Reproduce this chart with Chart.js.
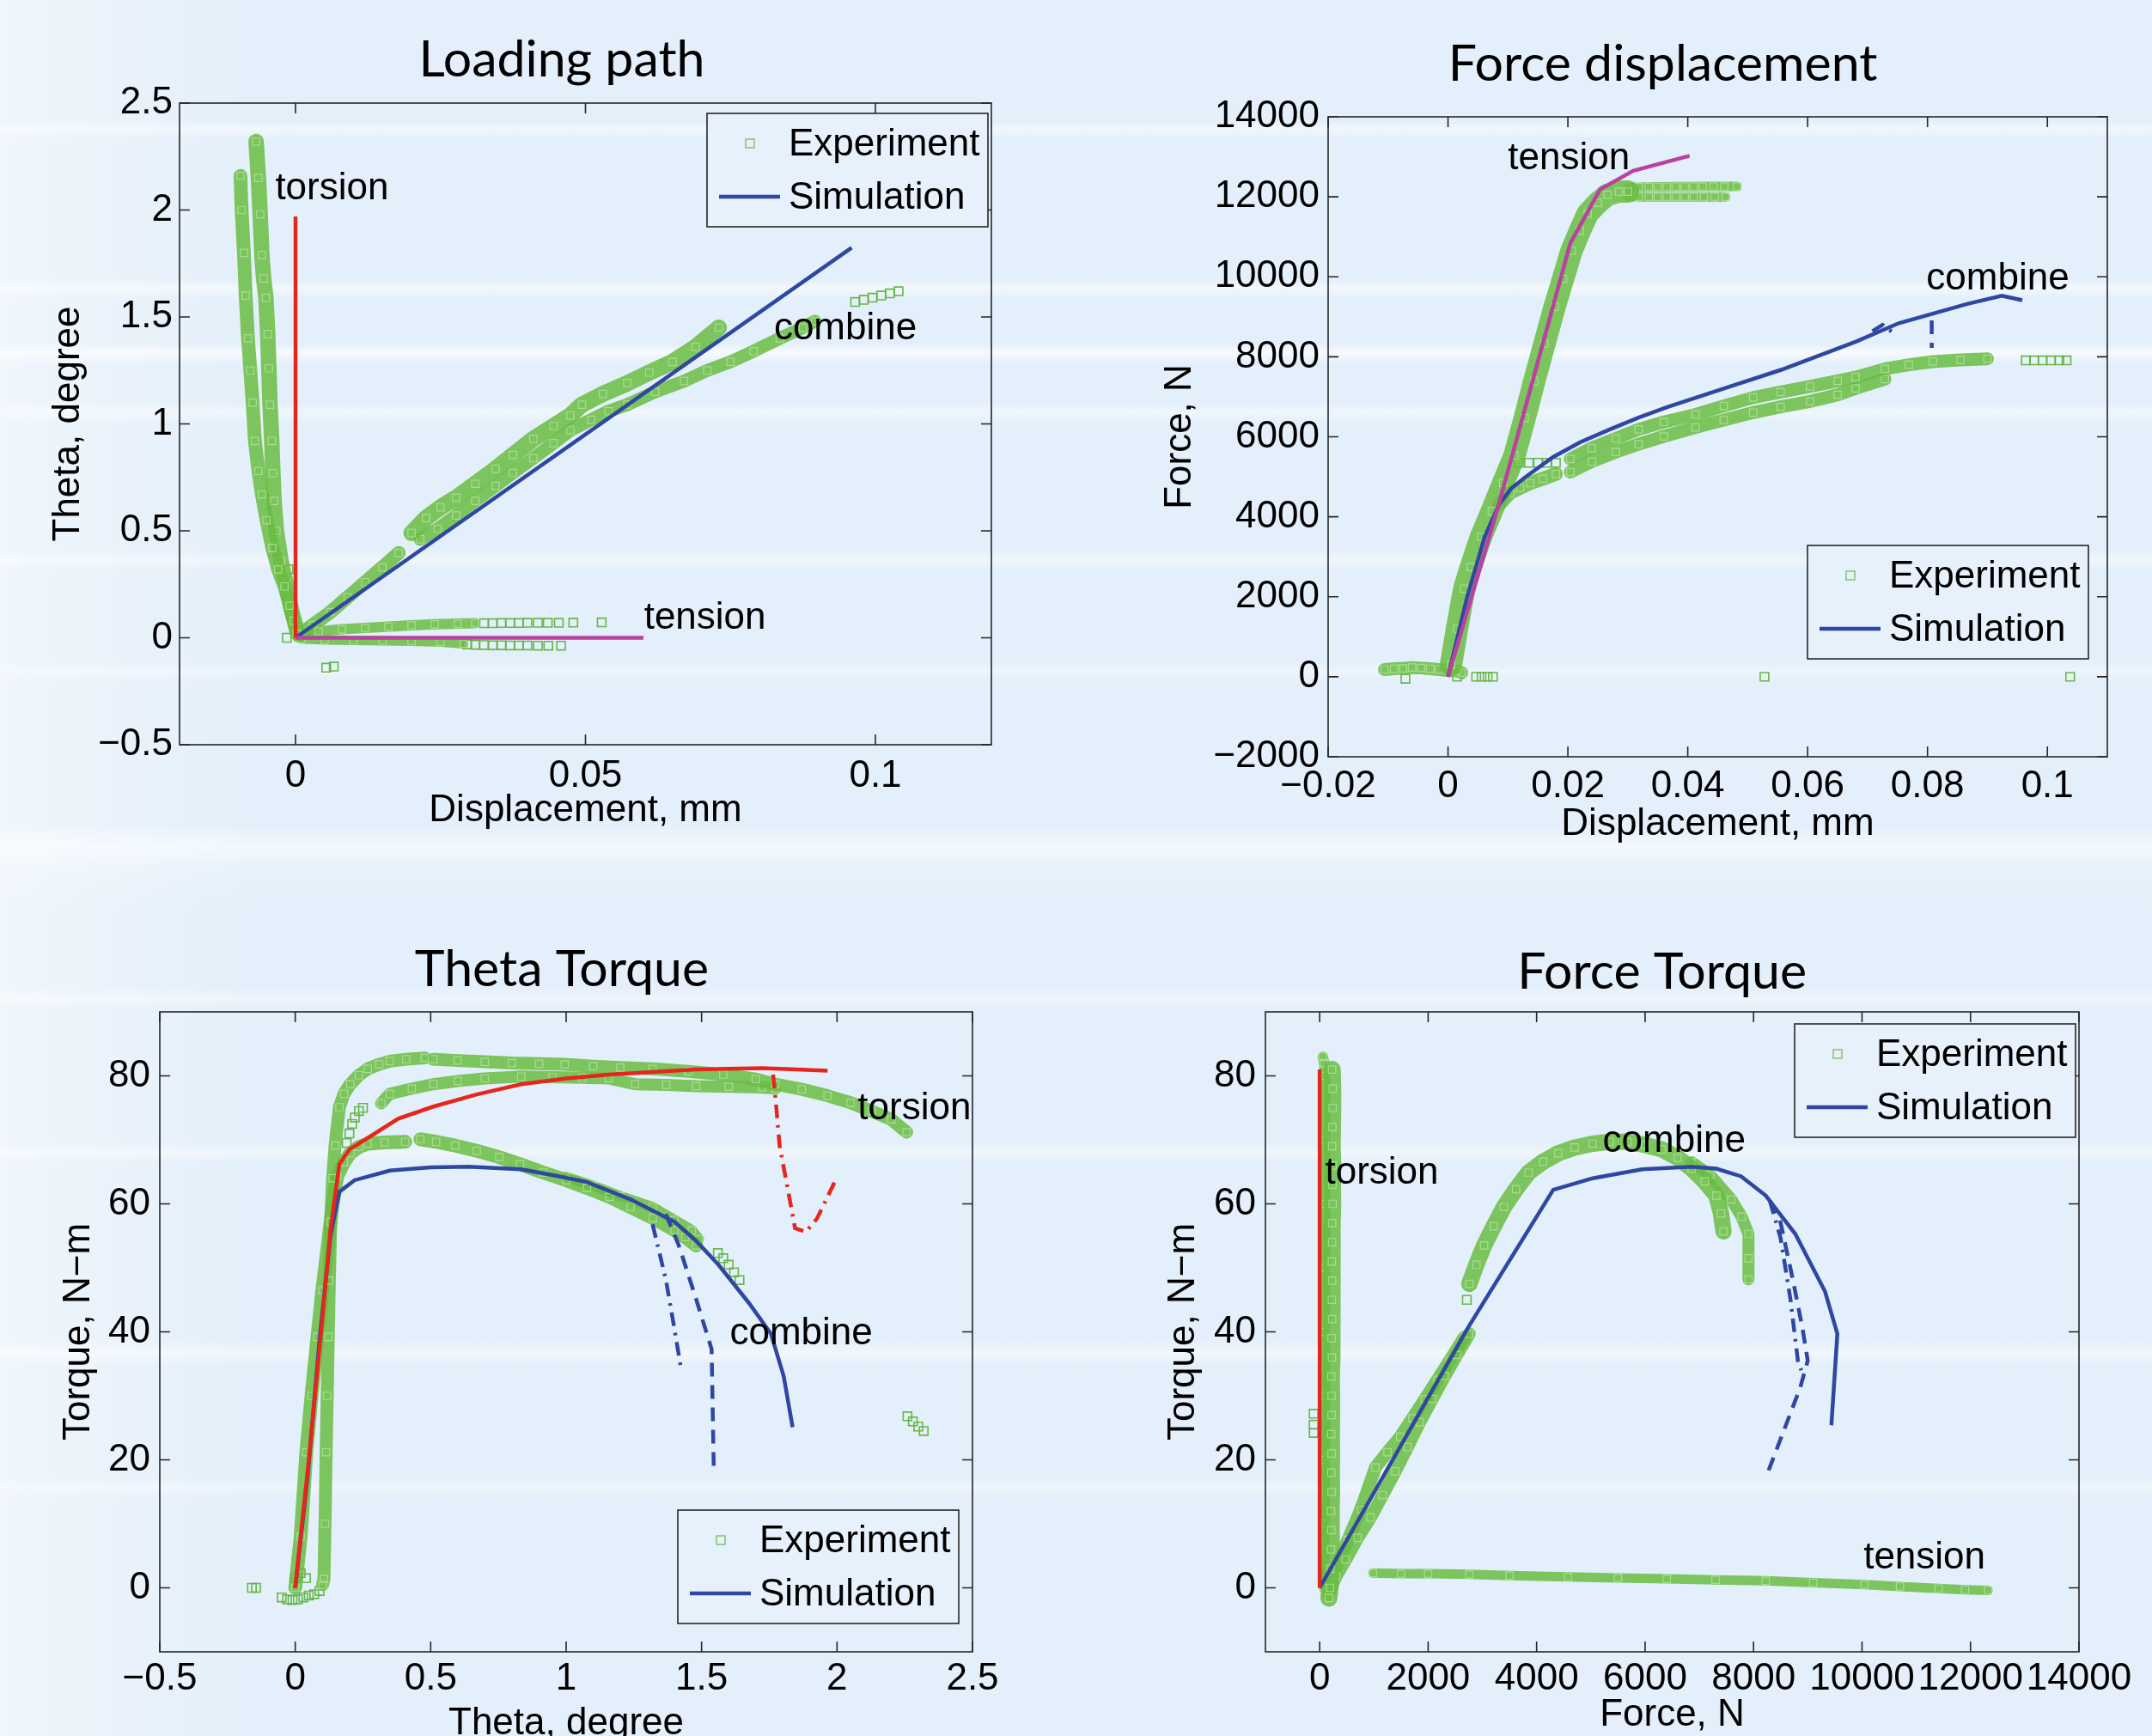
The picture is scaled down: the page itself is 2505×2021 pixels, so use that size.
<!DOCTYPE html>
<html>
<head>
<meta charset="utf-8">
<title>Loading path / Force displacement / Theta Torque / Force Torque</title>
<script src="https://cdn.jsdelivr.net/npm/chart.js@4.4.1/dist/chart.umd.min.js"></script>
<style>
  body {
    margin: 0; width: 2505px; height: 2021px; overflow: hidden; position: relative;
    background:
      linear-gradient(90deg, rgba(255,255,255,0.45), rgba(255,255,255,0) 300px),
      linear-gradient(180deg,
        #e3effa 0px, #e3effa 140px, #f1f7fd 150px, #e3effa 162px,
        #e3effa 325px, #f3f8fd 335px, #e3effa 348px,
        #e3effa 400px, #f6fafe 410px, #e3effa 424px,
        #e3effa 468px, #eff6fc 480px, #e3effa 494px,
        #e3effa 640px, #f0f6fc 652px, #e3effa 664px,
        #e3effa 770px, #eef5fc 782px, #e3effa 794px,
        #e3effa 960px, #f4f9fe 985px, #e8f2fb 1010px, #e3effa 1060px,
        #e3effa 1150px, #eff6fc 1162px, #e3effa 1174px,
        #e3effa 1330px, #f0f6fc 1342px, #e3effa 1354px,
        #e3effa 1560px, #f1f7fd 1575px, #e3effa 1590px,
        #e3effa 1720px, #eef5fc 1732px, #e3effa 1744px,
        #e3effa 2021px);
  }
  canvas { position: absolute; }
</style>
</head>
<body>
<canvas id="c1" width="1250" height="1000" style="left:0;top:0"></canvas>
<canvas id="c2" width="1255" height="1000" style="left:1250px;top:0"></canvas>
<canvas id="c3" width="1250" height="1060" style="left:0;top:1000px"></canvas>
<canvas id="c4" width="1255" height="1060" style="left:1250px;top:1000px"></canvas>
<script>
// ---- Loading path (displacement mm, theta degree)
var lpXTicks = [0, 0.05, 0.1];
var lpYTicks = [-0.5, 0, 0.5, 1, 1.5, 2, 2.5];
var lpTorsionExpA = [[-0.0095,2.16],[-0.0093,2.0],[-0.0089,1.8],[-0.0086,1.6],[-0.0082,1.4],[-0.0078,1.25],[-0.0074,1.1],[-0.007,0.92],[-0.0064,0.78],[-0.0058,0.67],[-0.005,0.55],[-0.004,0.42],[-0.003,0.32],[-0.0019,0.24],[-0.001,0.15],[-0.0003,0.08],[0.0002,0.02]];
var lpTorsionExpB = [[-0.0068,2.32],[-0.0064,2.15],[-0.0061,1.98],[-0.0058,1.79],[-0.0055,1.68],[-0.0051,1.59],[-0.0048,1.42],[-0.0046,1.26],[-0.0044,1.09],[-0.0041,0.92],[-0.0039,0.77],[-0.0037,0.64],[-0.0033,0.5],[-0.0025,0.36],[-0.0016,0.25],[-0.0007,0.13],[0.0002,0.04]];
var lpTorsionExpIso = [[-0.0012,0.32],[-0.0015,0.0]];
var lpTensionExpHi = [[0.0005,0.01],[0.004,0.03],[0.008,0.04],[0.012,0.046],[0.016,0.052],[0.02,0.058],[0.024,0.063],[0.028,0.066],[0.031,0.068]];
var lpTensionExpHiTail = [[0.0325,0.068],[0.034,0.068],[0.0355,0.069],[0.037,0.069],[0.0385,0.069],[0.04,0.07],[0.0418,0.07],[0.0435,0.07],[0.0454,0.07],[0.0479,0.071],[0.0528,0.072]];
var lpTensionExpLo = [[0.001,-0.005],[0.005,-0.01],[0.01,-0.012],[0.015,-0.014],[0.02,-0.016],[0.025,-0.02],[0.029,-0.028]];
var lpTensionExpLoTail = [[0.0296,-0.031],[0.031,-0.033],[0.0325,-0.034],[0.034,-0.035],[0.0355,-0.035],[0.037,-0.036],[0.0385,-0.036],[0.04,-0.036],[0.0418,-0.037],[0.0436,-0.037],[0.0458,-0.037]];
var lpTensionExpIso = [[0.0053,-0.14],[0.0066,-0.135]];
var lpCombineExpStart = [[0.0005,0.01],[0.003,0.06],[0.006,0.12],[0.009,0.19],[0.012,0.26],[0.015,0.33],[0.0178,0.397]];
var lpCombineExpHi = [[0.02,0.49],[0.0225,0.56],[0.025,0.61],[0.0277,0.655],[0.031,0.72],[0.0345,0.79],[0.0375,0.855],[0.041,0.93],[0.0445,0.99],[0.0474,1.04],[0.0494,1.09],[0.053,1.14],[0.0572,1.19],[0.061,1.24],[0.065,1.29],[0.069,1.36],[0.073,1.45]];
var lpCombineExpLo = [[0.0215,0.46],[0.0245,0.51],[0.0277,0.572],[0.031,0.64],[0.0345,0.71],[0.0375,0.771],[0.041,0.84],[0.0445,0.91],[0.0474,0.97],[0.051,1.02],[0.054,1.06],[0.0572,1.09],[0.062,1.15],[0.067,1.2],[0.071,1.25],[0.075,1.29],[0.079,1.34],[0.0835,1.4],[0.0875,1.45],[0.0896,1.48]];
var lpCombineExpTail = [[0.0965,1.57],[0.098,1.58],[0.0995,1.59],[0.101,1.6],[0.1025,1.61],[0.104,1.62]];
var lpSimTorsion = [[0,0],[0,1.97]];
var lpSimTension = [[0,0],[0.06,0]];
var lpSimCombine = [[0,0],[0.0959,1.824]];

// ---- Force displacement (displacement mm, force N)
var fdXTicks = [-0.02, 0, 0.02, 0.04, 0.06, 0.08, 0.1];
var fdYTicks = [-2000, 0, 2000, 4000, 6000, 8000, 10000, 12000, 14000];
var fdTensionExp = [[0.0005,300],[0.0015,1200],[0.0027,2200],[0.0038,2745],[0.0055,3500],[0.0073,4140],[0.0092,4850],[0.0111,5535],[0.0128,6470],[0.0144,7395],[0.0161,8330],[0.0178,9258],[0.0192,9950],[0.0206,10650],[0.022,11150],[0.0233,11580],[0.025,11850],[0.0266,12050],[0.0285,12130],[0.03,12130]];
var fdTensionExpHi = [[0.03,12230],[0.0318,12240],[0.0335,12245],[0.035,12250],[0.0365,12250],[0.038,12255],[0.0395,12255],[0.041,12255],[0.0425,12260],[0.0443,12260],[0.0461,12260],[0.0482,12260]];
var fdTensionExpLo = [[0.03,12010],[0.0318,12000],[0.0335,12000],[0.035,12000],[0.0365,12000],[0.038,12000],[0.0395,12000],[0.041,12000],[0.0427,12000],[0.0445,12000],[0.0463,12000]];
var fdCombineExpStart = [[0.0085,4300],[0.0104,4605],[0.012,4720],[0.0137,4840],[0.0158,4950],[0.018,5070]];
var fdCombineExpJump = [[0.0118,5350],[0.0135,5350],[0.015,5350],[0.0165,5350],[0.018,5350]];
var fdCombineExpHi = [[0.0204,5445],[0.024,5720],[0.028,5960],[0.0318,6185],[0.036,6370],[0.0413,6560],[0.046,6770],[0.0509,6980],[0.0555,7120],[0.0604,7260],[0.065,7400],[0.068,7490],[0.0729,7700],[0.0769,7800],[0.0809,7880],[0.0855,7920],[0.09,7950]];
var fdCombineExpLo = [[0.0204,5120],[0.024,5380],[0.028,5620],[0.0318,5815],[0.036,6010],[0.0413,6235],[0.046,6420],[0.0509,6605],[0.0555,6750],[0.0604,6885],[0.065,7050],[0.068,7210],[0.0729,7440]];
var fdCombineExpTail = [[0.0964,7910],[0.0978,7910],[0.0992,7910],[0.1006,7910],[0.102,7910],[0.1032,7910]];
var fdTorsionExp = [[-0.0106,180],[-0.009,200],[-0.0075,210],[-0.006,230],[-0.0045,220],[-0.003,200],[-0.0015,180],[0,160],[0.0015,150],[0.0023,100]];
var fdTorsionExpIso = [[-0.0071,-50],[0.0015,0],[0.0047,0],[0.0056,0],[0.0066,0],[0.0075,0],[0.0528,0],[0.1038,0]];
var fdSimTension = [[0,0],[0.0085,4325],[0.0204,10840],[0.0254,12190],[0.0309,12650],[0.0403,13025]];
var fdSimCombine = [[0,0],[0.0032,2000],[0.0061,3490],[0.0085,4300],[0.0105,4700],[0.0128,4980],[0.0175,5490],[0.022,5860],[0.027,6185],[0.0318,6480],[0.0366,6745],[0.0461,7210],[0.0556,7675],[0.068,8375],[0.0752,8840],[0.0866,9320],[0.0924,9525],[0.0958,9415]];
var fdSimCombineDash = [[0.0807,8910],[0.0807,8225]];
var fdSimCombineDashDot = [[0.0708,8640],[0.0725,8800],[0.0743,8600]];

// ---- Theta Torque (theta degree, torque N-m)
var ttXTicks = [-0.5, 0, 0.5, 1, 1.5, 2, 2.5];
var ttYTicks = [0, 20, 40, 60, 80];
var ttTorsionExpA = [[0.101,0.5],[0.106,1.4],[0.11,10],[0.114,21.2],[0.118,30],[0.122,39.2],[0.126,48],[0.131,57.2],[0.138,64],[0.147,69.1],[0.163,75.1],[0.18,77.2],[0.203,78.7],[0.235,80.1],[0.268,81.1],[0.31,81.8],[0.349,82.3],[0.41,82.6],[0.478,82.8]];
var ttTorsionExpA2 = [[0.51,82.6],[0.6,82.4],[0.7,82.2],[0.8,82.0],[0.9,81.9],[0.995,81.8],[1.1,81.5],[1.2,81.3],[1.319,81.1],[1.45,80.7],[1.58,80.2],[1.7,79.5],[1.772,78.7],[1.87,77.9],[1.965,76.9],[2.05,75.8],[2.127,74.5],[2.2,73.2],[2.257,71.2]];
var ttTorsionExpB = [[0.317,75.7],[0.349,77.2],[0.43,78.0],[0.51,78.7],[0.6,79.2],[0.7,79.6],[0.834,79.9],[0.95,79.8],[1.06,79.7],[1.157,79.6],[1.254,78.7],[1.37,78.6],[1.48,78.4],[1.6,78.3],[1.723,78.2],[1.772,78.0]];
var ttTorsionExpSpur = [[0.19,69.5],[0.2,71],[0.21,72.5],[0.22,73.5],[0.235,74.5],[0.25,75]];
var ttTorsionExpIso = [[2.26,26.8],[2.28,26],[2.3,25.2],[2.32,24.5]];
var ttCombineExp = [[0,0],[0.02,8],[0.041,21.2],[0.06,30],[0.082,39.2],[0.1,46.5],[0.122,54.1],[0.138,60],[0.155,64.3],[0.18,66.5],[0.203,67.9],[0.235,68.9],[0.268,69.4],[0.33,69.6],[0.406,69.7]];
var ttCombineExp2 = [[0.462,70.1],[0.52,69.7],[0.591,69.1],[0.67,68.3],[0.753,67.3],[0.83,66.2],[0.915,64.9],[1.0,63.7],[1.077,62.5],[1.16,61.1],[1.238,59.5],[1.32,57.8],[1.4,55.9],[1.44,54.8],[1.48,53.5]];
var ttCombineExpB = [[1.0,64.2],[1.1,62.8],[1.2,61.2],[1.319,59.5],[1.4,57.5],[1.464,55.9],[1.49,54.5]];
var ttCombineExpTail = [[1.56,52.3],[1.58,51.5],[1.6,50.5],[1.62,49.3],[1.64,48.1]];
var ttTensionExp = [[-0.05,-1.5],[-0.03,-1.8],[-0.01,-1.9],[0.01,-1.8],[0.03,-1.5],[0.05,-1.2],[0.07,-1.0],[0.09,-0.5],[0,1.5],[0.02,2.3],[0.04,1.5],[-0.16,0],[-0.145,0]];
var ttSimTorsion = [[0,0],[0.05,20],[0.1,42],[0.13,56],[0.163,66.2],[0.2,68.5],[0.268,70.3],[0.38,73.3],[0.51,75.2],[0.67,77.1],[0.834,78.7],[1.0,79.6],[1.157,80.2],[1.32,80.6],[1.48,81.0],[1.6,81.1],[1.723,81.2],[1.85,81.0],[1.965,80.8]];
var ttSimTorsionDashDot = [[1.764,80.2],[1.776,75],[1.788,69.1],[1.82,61.9],[1.845,56.2],[1.885,55.6],[1.926,57.7],[1.998,64.0]];
var ttSimCombine = [[0,0],[0.045,17],[0.09,39],[0.13,55],[0.163,61.9],[0.219,63.7],[0.349,65.2],[0.5,65.7],[0.64,65.8],[0.834,65.4],[0.95,64.5],[1.077,63.4],[1.238,60.7],[1.4,57.2],[1.48,54.2],[1.562,50.5],[1.675,44.5],[1.756,39.7],[1.803,33.1],[1.836,25.1]];
var ttSimCombineDash = [[1.368,58.4],[1.416,53.5],[1.48,45.1],[1.537,37.3],[1.545,18.7]];
var ttSimCombineDashDot = [[1.319,56.8],[1.368,48.2],[1.4,40.4],[1.424,34.3]];

// ---- Force Torque (force N, torque N-m)
var ftXTicks = [0, 2000, 4000, 6000, 8000, 10000, 12000, 14000];
var ftYTicks = [0, 20, 40, 60, 80];
var ftTorsionExpA = [[230,81],[240,78],[240,75],[235,72],[230,69],[240,66],[235,63],[240,60],[230,57],[230,54],[225,51],[230,48],[225,45],[230,42],[220,39],[225,36],[215,33],[220,30],[220,27],[215,24],[220,21],[215,18],[220,15],[210,12],[215,9],[210,6],[200,3],[190,0],[170,-1.6]];
var ftTorsionExpB = [[60,83],[80,82],[100,80],[100,70],[95,60],[100,50],[95,40],[100,30],[95,20],[90,10],[80,0]];
var ftTorsionExpIso = [[-110,27.2],[-110,25.5],[-110,24.2]];
var ftCombineExpLo = [[163,-1],[300,1.8],[481,4.4],[700,7.8],[938,11],[1160,14.5],[1393,18.2],[1620,22],[1846,25.9],[2075,29.5],[2305,33.1],[2530,36.4],[2759,39.7]];
var ftCombineExpHi = [[300,3.2],[520,7.5],[755,12.2],[1028,18.8],[1250,21.2],[1485,23.6],[1710,26.5],[1940,29.5],[2170,32.5],[2396,35.5],[2669,39.2]];
var ftCombineExpIso = [[750,12.2],[2713,45]];
var ftCombineExpTop = [[2759,47.5],[2890,50.5],[3032,53.5],[3210,56.5],[3397,59.5],[3620,62.3],[3852,64.9],[4120,66.6],[4400,67.9],[4700,68.8],[5035,69.4],[5350,69.7],[5673,69.7],[6000,69.2],[6311,68.5],[6600,67.2],[6858,65.5],[7100,63.5],[7314,61.3],[7400,58.5],[7446,55.7]];
var ftCombineExpTop2 = [[6858,66.5],[7200,64.5],[7587,60.7],[7780,58],[7906,55.3],[7906,51.5],[7906,48.2]];
var ftTensionExp = [[984,2.3],[1500,2.2],[2000,2.2],[2759,2.1],[3500,1.9],[4580,1.7],[5500,1.55],[6402,1.4],[7300,1.25],[8224,1.1],[9100,0.8],[10046,0.5],[10700,0.2],[11412,-0.1],[11900,-0.3],[12323,-0.4]];
var ftSimTorsion = [[0,0],[0,81]];
var ftSimCombine = [[0,0],[2759,41],[4307,62.2],[5035,64],[5947,65.4],[6858,65.8],[7314,65.5],[7770,64.3],[8224,61.3],[8770,55.3],[9318,46.3],[9545,39.7],[9435,25.4]];
var ftSimCombineDash = [[8300,60.5],[8497,57.1],[8724,48.2],[8905,40.4],[8999,35.5],[8861,31.3],[8271,18.2]];
var ftSimCombineDashDot = [[8300,60.5],[8497,54.7],[8680,45.1],[8817,35.5],[8880,34]];

var BAND = 'rgba(104,188,66,0.85)';
var BAND_SQUARE = 'rgba(178,224,150,0.85)';
var SQUARE = 'rgba(96,180,62,0.95)';
var BLUE = '#3047a2';
var RED = '#e6261c';
var MAGENTA = '#b9419f';
var FONT = '"Liberation Sans", Arial, sans-serif';

Chart.defaults.font.family = FONT;
Chart.defaults.color = '#000';

function pts(a) {
  return a.map(function (p) { return {x: p[0], y: p[1]}; });
}
function band(a, w) {
  return {data: pts(a), showLine: true, borderColor: BAND, borderWidth: w,
    borderJoinStyle: 'round', borderCapStyle: 'round',
    pointStyle: 'rect', pointRadius: 6, pointBorderWidth: 1.2,
    pointBorderColor: BAND_SQUARE, pointBackgroundColor: 'rgba(0,0,0,0)', order: 2};
}
function dots(a) {
  return {data: pts(a), showLine: false, pointStyle: 'rect', pointRadius: 7,
    pointBorderWidth: 1.6, pointBorderColor: SQUARE,
    pointBackgroundColor: 'rgba(0,0,0,0)', order: 2};
}
function sim(a, color, dash) {
  return {data: pts(a), showLine: true, borderColor: color, borderWidth: 4.5,
    borderDash: dash || [], pointRadius: 0, tension: 0, order: 1};
}
var DASH = [16, 10];
var DASHDOT = [16, 8, 3, 8];

function fmt(v) {
  return (v < 0 ? '\u2212' : '') + String(parseFloat(Math.abs(v).toFixed(4)));
}

// MATLAB-like box, inward ticks, text labels, legend and title
var boxPlugin = {
  id: 'mbox',
  afterDatasetsDraw: function (chart, args, o) {
    var ctx = chart.ctx, a = chart.chartArea, sx = chart.scales.x, sy = chart.scales.y;
    ctx.save();
    ctx.strokeStyle = '#262626';
    ctx.lineWidth = 1.6;
    ctx.strokeRect(a.left, a.top, a.right - a.left, a.bottom - a.top);
    var t = 12;
    ctx.beginPath();
    sx.ticks.forEach(function (tk) {
      var px = sx.getPixelForValue(tk.value);
      ctx.moveTo(px, a.bottom); ctx.lineTo(px, a.bottom - t);
      ctx.moveTo(px, a.top); ctx.lineTo(px, a.top + t);
    });
    sy.ticks.forEach(function (tk) {
      var py = sy.getPixelForValue(tk.value);
      ctx.moveTo(a.left, py); ctx.lineTo(a.left + t, py);
      ctx.moveTo(a.right, py); ctx.lineTo(a.right - t, py);
    });
    ctx.stroke();

    ctx.fillStyle = '#000';
    ctx.font = '44px ' + FONT;
    ctx.textAlign = 'left';
    ctx.textBaseline = 'middle';
    o.notes.forEach(function (n) {
      ctx.fillText(n.text, sx.getPixelForValue(n.x), sy.getPixelForValue(n.y));
    });

    // legend
    var lg = o.legend, w = 327, h = 132;
    var left = a.right - lg.right - w;
    var top = lg.top != null ? a.top + lg.top : a.bottom - lg.bottom - h;
    ctx.fillStyle = '#e6f1fb';
    ctx.fillRect(left, top, w, h);
    ctx.strokeStyle = '#262626';
    ctx.lineWidth = 1.6;
    ctx.strokeRect(left, top, w, h);
    ctx.strokeStyle = 'rgba(120,190,95,0.9)';
    ctx.lineWidth = 1.5;
    ctx.strokeRect(left + 45, top + 30, 10, 10);
    ctx.strokeStyle = BLUE;
    ctx.lineWidth = 4.5;
    ctx.beginPath();
    ctx.moveTo(left + 14, top + 97); ctx.lineTo(left + 85, top + 97);
    ctx.stroke();
    ctx.fillStyle = '#000';
    ctx.fillText('Experiment', left + 95, top + 37);
    ctx.fillText('Simulation', left + 95, top + 99);

    // title
    ctx.font = '59px Lato, "Open Sans", sans-serif';
    ctx.textAlign = 'center';
    ctx.textBaseline = 'alphabetic';
    ctx.fillText(o.title, o.titleX, o.titleY);
    ctx.restore();
  }
};

function axis(min, max, ticks, title, pad, titlePad, fit, vertical) {
  return {
    type: 'linear', min: min, max: max,
    afterBuildTicks: function (s) { s.ticks = ticks.map(function (v) { return {value: v}; }); },
    afterFit: fit,
    grid: {display: false, drawTicks: false},
    border: {display: false},
    ticks: {color: '#000', font: {size: 44, lineHeight: 1}, padding: pad,
      maxRotation: 0, minRotation: 0, autoSkip: false, callback: fmt},
    title: {display: true, text: title, color: '#000', font: {size: 44, lineHeight: 1},
      padding: vertical ? {top: titlePad} : {bottom: titlePad}}
  };
}

function makeChart(id, o) {
  return new Chart(document.getElementById(id), {
    type: 'scatter',
    data: {datasets: o.datasets},
    options: {
      responsive: false, animation: false, devicePixelRatio: 1, events: [],
      layout: {padding: {left: 0, top: o.top, right: o.right, bottom: 0}},
      plugins: {
        legend: {display: false}, tooltip: {enabled: false}, title: {display: false},
        mbox: {title: o.title, titleX: o.titleX, titleY: o.titleY, notes: o.notes, legend: o.legend}
      },
      scales: {
        x: axis(o.xMin, o.xMax, o.xTicks, o.xTitle, o.xPad, o.xTitlePad,
          function (s) { s.height = o.xH; }, false),
        y: axis(o.yMin, o.yMax, o.yTicks, o.yTitle, o.yPad, o.yTitlePad,
          function (s) { s.width = o.yW; }, true)
      }
    },
    plugins: [boxPlugin]
  });
}

makeChart('c1', {
  title: 'Loading path', titleX: 654, titleY: 89,
  top: 120, right: 96, xH: 133, yW: 209,
  xMin: -0.02, xMax: 0.12, xTicks: lpXTicks, xTitle: 'Displacement, mm', xPad: 15, xTitlePad: 34,
  yMin: -0.5, yMax: 2.5, yTicks: lpYTicks, yTitle: 'Theta, degree', yPad: 8, yTitlePad: 58,
  legend: {right: 4, top: 12},
  notes: [{text: 'torsion', x: -0.0035, y: 2.1}, {text: 'combine', x: 0.0825, y: 1.445},
    {text: 'tension', x: 0.0601, y: 0.092}],
  datasets: [
    band(lpTorsionExpA, 16), band(lpTorsionExpB, 18), dots(lpTorsionExpIso),
    band(lpTensionExpHi, 12), dots(lpTensionExpHiTail), band(lpTensionExpLo, 11), dots(lpTensionExpLoTail),
    dots(lpTensionExpIso),
    band(lpCombineExpStart, 16), band(lpCombineExpHi, 19), band(lpCombineExpLo, 15), dots(lpCombineExpTail),
    sim(lpSimTorsion, RED), sim(lpSimTension, MAGENTA), sim(lpSimCombine, BLUE)
  ]
});

makeChart('c2', {
  title: 'Force displacement', titleX: 685.5, titleY: 94,
  top: 136, right: 52, xH: 119, yW: 296,
  xMin: -0.02, xMax: 0.11, xTicks: fdXTicks, xTitle: 'Displacement, mm', xPad: 13, xTitlePad: 18,
  yMin: -2000, yMax: 14000, yTicks: fdYTicks, yTitle: 'Force, N', yPad: 10, yTitlePad: 102,
  legend: {right: 22, bottom: 114},
  notes: [{text: 'tension', x: 0.01, y: 12944}, {text: 'combine', x: 0.0798, y: 9934}],
  datasets: [
    band(fdTensionExp, 26), band(fdTensionExpHi, 11), band(fdTensionExpLo, 11),
    band(fdCombineExpStart, 16), dots(fdCombineExpJump), band(fdCombineExpHi, 15), band(fdCombineExpLo, 15),
    dots(fdCombineExpTail),
    band(fdTorsionExp, 15), dots(fdTorsionExpIso),
    sim(fdSimTension, MAGENTA), sim(fdSimCombine, BLUE),
    sim(fdSimCombineDash, BLUE, DASH), sim(fdSimCombineDashDot, BLUE, DASHDOT)
  ]
});

makeChart('c3', {
  title: 'Theta Torque', titleX: 654, titleY: 148,
  top: 178, right: 118, xH: 137, yW: 186,
  xMin: -0.5, xMax: 2.5, xTicks: ttXTicks, xTitle: 'Theta, degree', xPad: 10, xTitlePad: 31,
  yMin: -10, yMax: 90, yTicks: ttYTicks, yTitle: 'Torque, N\u2212m', yPad: 11, yTitlePad: 70,
  legend: {right: 16, bottom: 33},
  notes: [{text: 'torsion', x: 2.076, y: 74.9}, {text: 'combine', x: 1.604, y: 39.7}],
  datasets: [
    band(ttTorsionExpA, 15), band(ttTorsionExpA2, 15), band(ttTorsionExpB, 14), dots(ttTorsionExpSpur),
    dots(ttTorsionExpIso),
    band(ttCombineExp, 16), band(ttCombineExp2, 16), band(ttCombineExpB, 12), dots(ttCombineExpTail),
    dots(ttTensionExp),
    sim(ttSimTorsion, RED), sim(ttSimTorsionDashDot, RED, DASHDOT),
    sim(ttSimCombine, BLUE), sim(ttSimCombineDash, BLUE, DASH), sim(ttSimCombineDashDot, BLUE, DASHDOT)
  ]
});

makeChart('c4', {
  title: 'Force Torque', titleX: 684.7, titleY: 151,
  top: 178, right: 85, xH: 137, yW: 223,
  xMin: -1000, xMax: 14000, xTicks: ftXTicks, xTitle: 'Force, N', xPad: 10, xTitlePad: 41,
  yMin: -10, yMax: 90, yTicks: ftYTicks, yTitle: 'Torque, N\u2212m', yPad: 11, yTitlePad: 106,
  legend: {right: 4, top: 14},
  notes: [{text: 'torsion', x: 100, y: 64.8}, {text: 'combine', x: 5218, y: 69.7},
    {text: 'tension', x: 10027, y: 4.7}],
  datasets: [
    band(ftTorsionExpA, 20), band(ftTorsionExpB, 12), dots(ftTorsionExpIso),
    band(ftCombineExpLo, 15), band(ftCombineExpHi, 15), dots(ftCombineExpIso),
    band(ftCombineExpTop, 19), band(ftCombineExpTop2, 14),
    band(ftTensionExp, 11),
    sim(ftSimTorsion, RED), sim(ftSimCombine, BLUE),
    sim(ftSimCombineDash, BLUE, DASH), sim(ftSimCombineDashDot, BLUE, DASHDOT)
  ]
});
</script>
</body>
</html>
